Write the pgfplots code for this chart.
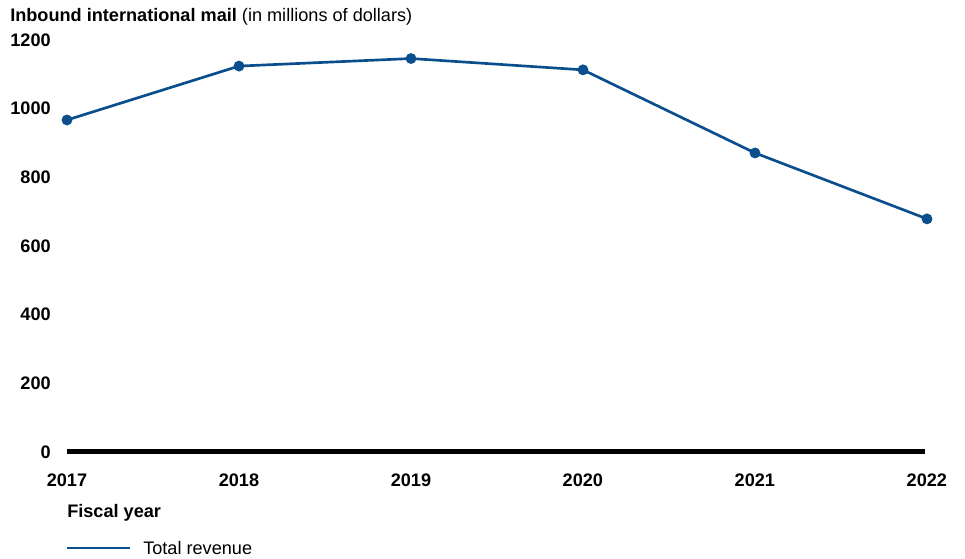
\documentclass[border=0pt]{standalone}
\usepackage{pgfplots}
\pgfplotsset{compat=1.18}
\usepackage{fontspec}
\setmainfont{Liberation Sans}
\definecolor{rev}{HTML}{0B4E8E}

\begin{document}
\fontsize{13.6}{16}\selectfont
\begin{tikzpicture}
\path[use as bounding box] (-50.25pt,-80.25pt) rectangle (673.5pt,339pt);
\begin{axis}[
    at={(0,0)}, anchor=south west,
    scale only axis, width=645pt, height=309pt,
    xmin=2017, xmax=2022, ymin=0, ymax=1200,
    xtick={2017,...,2022}, ytick={0,200,...,1200},
    axis line style={draw=none}, major tick length=0pt,
    tick label style={font=\fontsize{13.6}{16}\selectfont\bfseries},
    /pgf/number format/assume math mode=true,
    /pgf/number format/1000 sep={},
    yticklabel style={anchor=east, inner sep=0pt, xshift=-12pt},
    xticklabel style={anchor=north, inner sep=0pt, yshift=-16pt},
    clip=false,
]
\draw[line width=3.75pt] (axis cs:2017,0) -- (axis cs:2021.99,0);
\addplot[rev, line width=2pt, mark=*, mark size=3pt] coordinates {
    (2017,967) (2018,1124) (2019,1146) (2020,1113) (2021,871) (2022,679)
};
\end{axis}
\node[anchor=west, inner sep=0pt] at (-42.75pt,326.5pt) {\textbf{Inbound international mail} (in millions of dollars)};
\node[anchor=west, inner sep=0pt] at (0pt,-45.75pt) {\textbf{Fiscal year}};
\draw[rev, line width=2pt] (0pt,-72pt) -- (47pt,-72pt);
\node[anchor=west, inner sep=0pt] at (57pt,-72pt) {Total revenue};
\end{tikzpicture}
\end{document}
